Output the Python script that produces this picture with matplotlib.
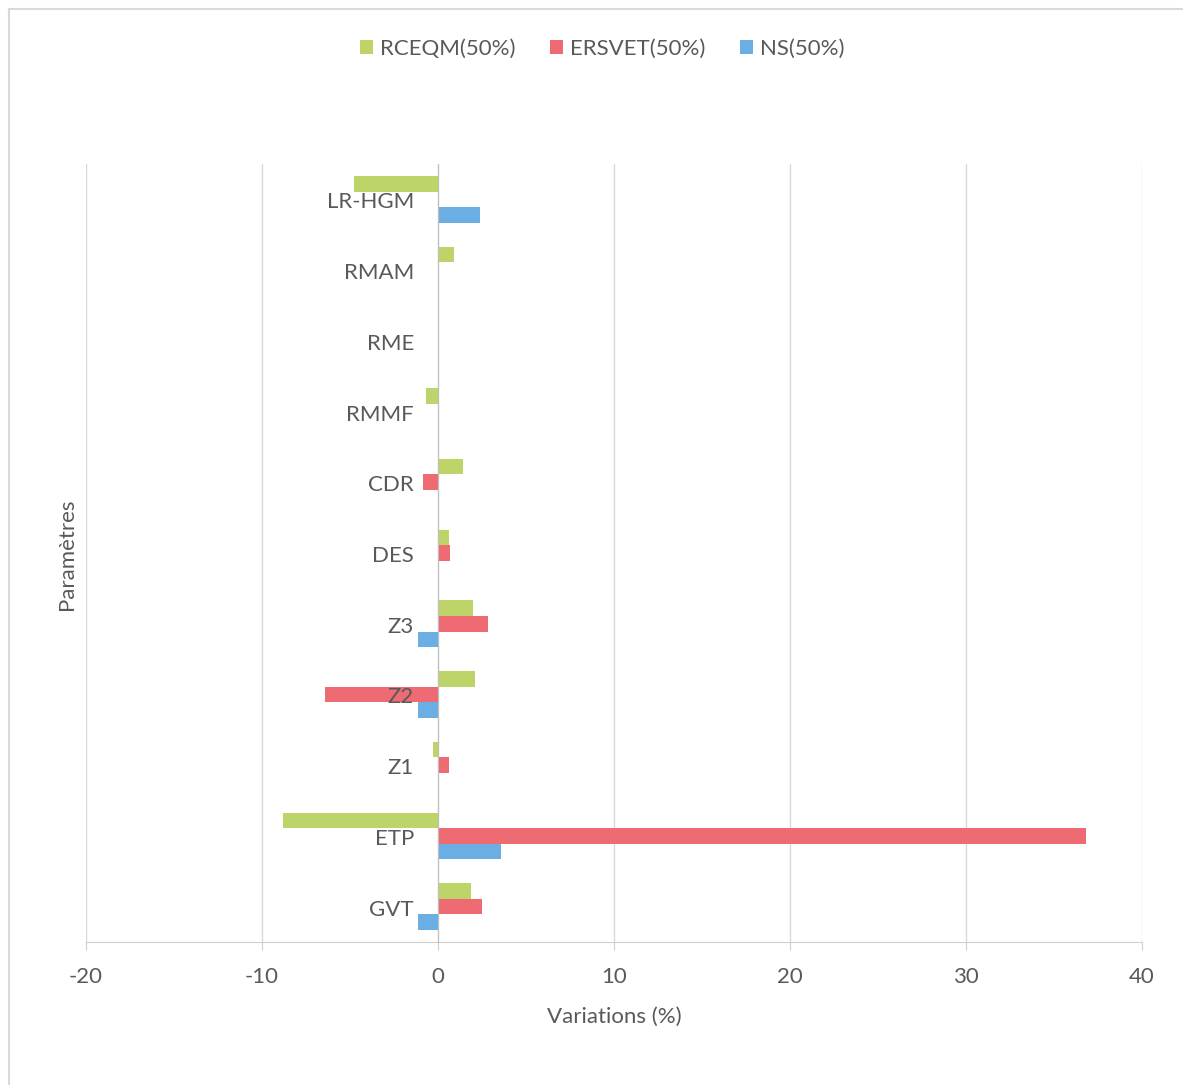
import matplotlib.pyplot as plt
import numpy as np
from matplotlib.lines import Line2D
from matplotlib.transforms import offset_copy

plt.rcParams['font.family'] = ['Lato', 'DejaVu Sans']
plt.rcParams['axes.unicode_minus'] = False

# parameters, bottom to top
params = ['GVT', 'ETP', 'Z1', 'Z2', 'Z3', 'DES', 'CDR', 'RMMF', 'RME', 'RMAM', 'LR-HGM']
rceqm = [1.9, -8.8, -0.3, 2.1, 2.0, 0.6, 1.4, -0.7, 0.0, 0.9, -4.8]
ersvet = [2.5, 36.8, 0.6, -6.4, 2.85, 0.7, -0.85, 0.0, 0.0, 0.0, 0.0]
ns = [-1.15, 3.6, 0.0, -1.15, -1.15, 0.0, 0.0, 0.0, 0.0, 0.0, 2.4]

c_green = '#bcd468'
c_red = '#ee6b73'
c_blue = '#6aaee3'
txt = '#595959'
fs = 16

fig = plt.figure(figsize=(11.83, 10.85), dpi=100)
ax = fig.add_axes([86/1183, 1-942/1085, (1142-86)/1183, (942-164)/1085])

y = np.arange(len(params))
h = 0.22
ax.barh(y + 0.22, rceqm, height=h, color=c_green, label='RCEQM(50%)', zorder=3)
ax.barh(y, ersvet, height=h, color=c_red, label='ERSVET(50%)', zorder=3)
ax.barh(y - 0.22, ns, height=h, color=c_blue, label='NS(50%)', zorder=3)

ax.set_xlim(-20, 40)
ax.set_ylim(-0.5, len(params) - 0.5)
ax.set_xticks(range(-20, 41, 10))
ax.grid(axis='x', color='#d9d9d9', lw=1, zorder=0)

# category names sit just left of the zero line, drawn over the bars
ax.set_yticks([])
lab_tr = offset_copy(ax.transData, fig=fig, x=-24, y=-3, units='dots')
for yi, name in zip(y, params):
    ax.text(0, yi, name, transform=lab_tr, ha='right', va='center',
            fontsize=fs, color=txt, zorder=6)

ax.spines['left'].set_position(('data', 0))
ax.spines['left'].set_color('#bfbfbf')
ax.spines['left'].set_zorder(4)
ax.spines['bottom'].set_color('#d0d0d0')
ax.spines['top'].set_visible(False)
ax.spines['right'].set_visible(False)
ax.tick_params(axis='x', length=6, color='#d0d0d0', pad=12, labelsize=fs, labelcolor=txt)

ax.set_xlabel('Variations (%)', fontsize=fs, color=txt, labelpad=14)
fig.text(67/1183, 1-554/1085, 'Paramètres', rotation=90, fontsize=fs, color=txt,
         ha='center', va='center')

ax.legend(loc='upper center', bbox_to_anchor=(0.509, 1 - 19/1085), bbox_transform=fig.transFigure,
          ncol=3, frameon=False, fontsize=fs, labelcolor=txt, handlelength=0.6,
          handleheight=0.6, handletextpad=0.3, columnspacing=1.55)

# light chart border
fig.add_artist(Line2D([9/1183, 9/1183], [0, 1-9/1085], transform=fig.transFigure, color='#d9d9d9', lw=1.5))
fig.add_artist(Line2D([9/1183, 1], [1-9/1085, 1-9/1085], transform=fig.transFigure, color='#d9d9d9', lw=1.5))

fig.savefig('out.png', dpi=100)
